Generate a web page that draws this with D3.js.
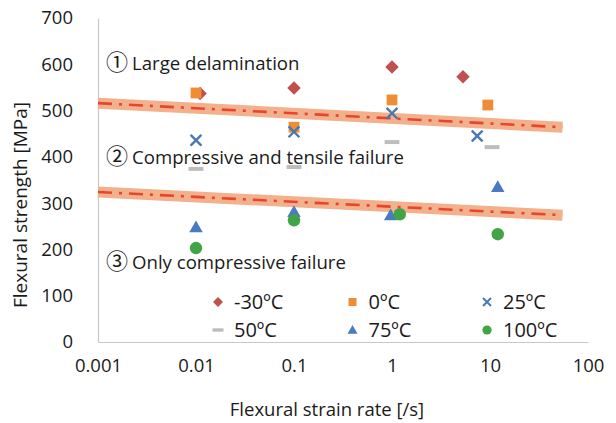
<!DOCTYPE html>
<html>
<head>
<meta charset="utf-8">
<script src="https://cdn.jsdelivr.net/npm/d3@7"></script>
<style>
  body { margin: 0; background: #fff; }
  svg { display: block; font-family: "Open Sans", "Noto Sans CJK JP", sans-serif; }
</style>
</head>
<body>
<div id="chart"></div>
<script>
// ---- data ----
const seriesNames = ["-30ºC", "0ºC", "25ºC", "50ºC", "75ºC", "100ºC"];
const seriesMarkers = ["diamond", "square", "cross", "dash", "triangle", "circle"];
const seriesColors = ["#c0504d", "#f08c35", "#4a78b0", "#bdbdbd", "#4a7bc0", "#3fa546"];

// strain rate [/s] and strength [MPa] for each temperature
const rates = [
  [0.011, 0.1, 1, 5.3],   // -30
  [0.01, 0.1, 1, 9.5],    // 0
  [0.01, 0.1, 1, 7.4],    // 25
  [0.01, 0.1, 1, 10.5],   // 50
  [0.01, 0.1, 0.97, 12],  // 75
  [0.01, 0.1, 1.2, 12]    // 100
];
const strengths = [
  [537, 549, 594, 573],
  [538, 464, 523, 512],
  [436, 454, 494, 445],
  [374, 378, 432, 421],
  [248, 281, 274, 335],
  [203, 263, 276, 233]
];

// boundary lines between failure modes
const boundaryRates = [0.001, 55];
const upperBoundary = [516, 464];
const lowerBoundary = [324, 274];

const xTicks = [0.001, 0.01, 0.1, 1, 10, 100];
const yTicks = [0, 100, 200, 300, 400, 500, 600, 700];
const modeNumbers = ["①", "②", "③"];
const modeLabels = ["Large delamination", "Compressive and tensile failure", "Only compressive failure"];
const modeLabelValues = [602, 398, 171];

// ---- layout ----
const width = 616, height = 423;
const x = d3.scaleLog().domain([0.001, 100]).range([98, 588]);
const y = d3.scaleLinear().domain([0, 700]).range([342, 18]);

const svg = d3.select("#chart").append("svg")
  .attr("width", width).attr("height", height);

// axes
const xAxis = svg.append("g")
  .attr("transform", `translate(0,${y(0)})`)
  .call(d3.axisBottom(x).tickValues(xTicks).tickFormat(d => String(d))
    .tickSize(0).tickPadding(17));
const yAxis = svg.append("g")
  .attr("transform", `translate(${x(0.001)},0)`)
  .call(d3.axisLeft(y).tickValues(yTicks).tickSize(0).tickPadding(25));

[xAxis, yAxis].forEach(g => {
  g.select(".domain").attr("stroke", "#c8c8c8").attr("stroke-width", 1.2);
  g.selectAll("text").attr("fill", "#1a1a1a").style("font-size", "18.5px")
    .style("font-family", "'Open Sans', sans-serif");
});

// axis titles
svg.append("text")
  .attr("x", 327).attr("y", 416)
  .attr("text-anchor", "middle")
  .attr("fill", "#1a1a1a").style("font-size", "18.5px")
  .text("Flexural strain rate [/s]");
svg.append("text")
  .attr("transform", "translate(27,205) rotate(-90)")
  .attr("text-anchor", "middle")
  .attr("fill", "#1a1a1a").style("font-size", "19px")
  .text("Flexural strength [MPa]");

// boundary bands with dash-dot centre line
const line = d3.line().x(d => x(d[0])).y(d => y(d[1]));
[upperBoundary, lowerBoundary].forEach(b => {
  const pts = boundaryRates.map((r, i) => [r, b[i]]);
  svg.append("path").datum(pts).attr("d", line)
    .attr("fill", "none").attr("stroke", "#f3b08c").attr("stroke-width", 11);
  svg.append("path").datum(pts).attr("d", line)
    .attr("fill", "none").attr("stroke", "#e8462a").attr("stroke-width", 2.6)
    .attr("stroke-dasharray", "14,7,3,7");
});

// mode labels
const modes = svg.selectAll(".mode").data(modeLabels).join("text")
  .attr("class", "mode")
  .attr("x", 106).attr("y", (d, i) => y(modeLabelValues[i]))
  .attr("dy", "0.35em")
  .attr("fill", "#1a1a1a").style("font-size", "18.6px");
modes.append("tspan")
  .style("font-family", "'Noto Sans CJK JP', sans-serif")
  .style("font-size", "22px")
  .text((d, i) => modeNumbers[i]);
modes.append("tspan").attr("dx", 4).text(d => d);

// marker shapes
function marker(type, s) {
  const h = s / 2;
  switch (type) {
    case "diamond": return `M0,${-h}L${h},0L0,${h}L${-h},0Z`;
    case "square": { const q = h * 0.8; return `M${-q},${-q}H${q}V${q}H${-q}Z`; }
    case "cross": { const q = h * 0.8; return `M${-q},${-q}L${q},${q}M${q},${-q}L${-q},${q}`; }
    case "dash": return `M${-h * 1.1},0H${h * 1.1}`;
    case "triangle": return `M0,${-h}L${h},${h * 0.75}L${-h},${h * 0.75}Z`;
    case "circle": return d3.symbol(d3.symbolCircle, Math.PI * h * h * 0.85)();
  }
}
function styleMarker(sel, i, s) {
  const t = seriesMarkers[i];
  if (t === "cross") {
    sel.attr("fill", "none").attr("stroke", seriesColors[i]).attr("stroke-width", s > 10 ? 2.4 : 2);
  } else if (t === "dash") {
    sel.attr("fill", "none").attr("stroke", seriesColors[i]).attr("stroke-width", s > 10 ? 4 : 3.4);
  } else {
    sel.attr("fill", seriesColors[i]).attr("stroke", "none");
  }
}

// data points
seriesNames.forEach((name, i) => {
  const pts = rates[i].map((r, j) => [r, strengths[i][j]]);
  const g = svg.append("g");
  g.selectAll("path").data(pts).join("path")
    .attr("transform", d => `translate(${x(d[0])},${y(d[1])})`)
    .attr("d", marker(seriesMarkers[i], 13.5))
    .call(sel => styleMarker(sel, i, 13.5));
});

// legend
const legend = svg.append("g");
seriesNames.forEach((name, i) => {
  const col = i % 3, row = Math.floor(i / 3);
  const lx = 218 + col * 134.5, ly = 302 + row * 28;
  legend.append("path")
    .attr("transform", `translate(${lx},${ly})`)
    .attr("d", marker(seriesMarkers[i], 10))
    .call(sel => styleMarker(sel, i, 10));
  legend.append("text")
    .attr("x", lx + 16).attr("y", ly).attr("dy", "0.35em")
    .attr("fill", "#1a1a1a").style("font-size", "20px")
    .text(name);
});
</script>
</body>
</html>
